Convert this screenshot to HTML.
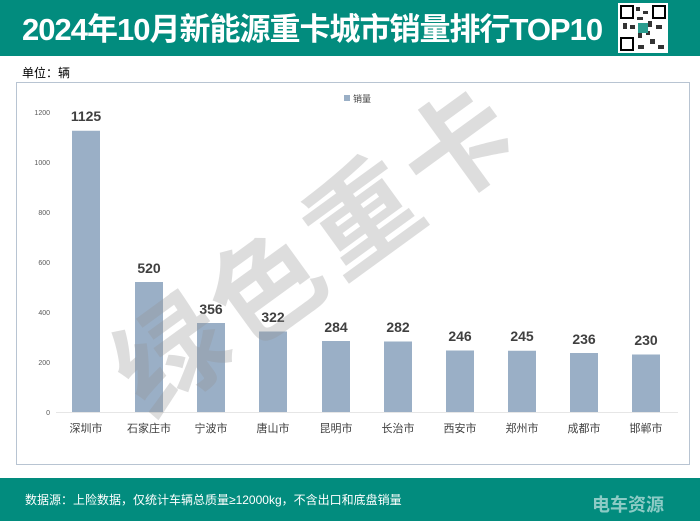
<!DOCTYPE html>
<html><head><meta charset="utf-8"><style>
body{margin:0;width:700px;height:521px;position:relative;background:#fff;overflow:hidden;font-family:"Liberation Sans","Noto Sans CJK SC",sans-serif}
.hdr{position:absolute;left:0;top:0;width:700px;height:56px;background:#028c7e}
.title{position:absolute;left:22px;top:4px;font-size:31px;font-weight:bold;color:#fff;letter-spacing:-1px;white-space:nowrap}
.qr{position:absolute;left:618px;top:3px;width:50px;height:50px;background:#fff}
.ftr{position:absolute;left:0;top:478px;width:700px;height:43px;background:#028c7e}
.box{position:absolute;left:16px;top:82px;width:674px;height:383px;border:1px solid #b8c4d2;box-sizing:border-box}
.t{position:absolute;white-space:nowrap}
</style></head><body>
<div class="hdr"></div>
<div class="title">2024年10月新能源重卡城市销量排行TOP10</div>
<div class="qr"><svg width="50" height="50">
<rect x="3" y="3" width="12" height="12" fill="none" stroke="#000" stroke-width="2"/>
<rect x="35" y="3" width="12" height="12" fill="none" stroke="#000" stroke-width="2"/>
<rect x="3" y="35" width="12" height="12" fill="none" stroke="#000" stroke-width="2"/>
<g fill="#333"><rect x="18" y="4" width="4" height="4"/><rect x="25" y="8" width="5" height="3"/><rect x="19" y="14" width="6" height="3"/><rect x="5" y="20" width="4" height="6"/><rect x="12" y="22" width="5" height="4"/><rect x="30" y="18" width="4" height="6"/><rect x="38" y="22" width="6" height="4"/><rect x="20" y="30" width="4" height="5"/><rect x="32" y="36" width="5" height="5"/><rect x="40" y="42" width="6" height="4"/><rect x="20" y="42" width="6" height="4"/><rect x="28" y="28" width="4" height="4"/></g>
<rect x="20" y="20" width="10" height="10" fill="#2a9d8f"/></svg></div>
<div class="t" style="left:22px;top:64px;font-size:12px;color:#000">单位：辆</div>
<div class="box"></div>
<svg style="position:absolute;left:0;top:0" width="700" height="521">
<line x1="56" y1="412.5" x2="678" y2="412.5" stroke="#e6e6e6"/>
<g font-size="7" fill="#595959" text-anchor="end" font-family="Liberation Sans,sans-serif">
<text x="50" y="115">1200</text><text x="50" y="165">1000</text><text x="50" y="215">800</text><text x="50" y="265">600</text><text x="50" y="315">400</text><text x="50" y="365">200</text><text x="50" y="415">0</text></g>
<rect x="344" y="95" width="6" height="6" fill="#9aafc6"/>
<text x="353" y="102" font-size="9" fill="#404040" font-family="Noto Sans CJK SC,sans-serif">销量</text>
<g fill="#9aafc6">
<rect x="72" y="130.75" width="28" height="281.25"/>
<rect x="135" y="282" width="28" height="130"/>
<rect x="197" y="323" width="28" height="89"/>
<rect x="259" y="331.5" width="28" height="80.5"/>
<rect x="322" y="341" width="28" height="71"/>
<rect x="384" y="341.5" width="28" height="70.5"/>
<rect x="446" y="350.5" width="28" height="61.5"/>
<rect x="508" y="350.75" width="28" height="61.25"/>
<rect x="570" y="353" width="28" height="59"/>
<rect x="632" y="354.5" width="28" height="57.5"/>
</g>
<g font-size="14" font-weight="bold" fill="#404040" text-anchor="middle" font-family="Liberation Sans,sans-serif">
<text x="86" y="121">1125</text><text x="149" y="273">520</text><text x="211" y="314">356</text><text x="273" y="322">322</text><text x="336" y="332">284</text><text x="398" y="332">282</text><text x="460" y="341">246</text><text x="522" y="341">245</text><text x="584" y="344">236</text><text x="646" y="345">230</text></g>
<g font-size="11" fill="#404040" text-anchor="middle" font-family="Noto Sans CJK SC,sans-serif">
<text x="86" y="432">深圳市</text><text x="149" y="432">石家庄市</text><text x="211" y="432">宁波市</text><text x="273" y="432">唐山市</text><text x="336" y="432">昆明市</text><text x="398" y="432">长治市</text><text x="460" y="432">西安市</text><text x="522" y="432">郑州市</text><text x="584" y="432">成都市</text><text x="646" y="432">邯郸市</text></g>
<text x="0" y="0" transform="translate(150,420) rotate(-36)" font-size="110" font-weight="bold" fill="rgba(150,150,150,0.32)" font-family="Noto Sans CJK SC,sans-serif" letter-spacing="8">绿色重卡</text>
</svg>
<div class="ftr"></div>
<div class="t" style="left:25px;top:491px;font-size:12px;color:#fff">数据源：上险数据，仅统计车辆总质量≥12000kg，不含出口和底盘销量</div>
<div class="t" style="left:592px;top:491px;font-size:18px;font-weight:bold;color:rgba(255,255,255,0.55)">电车资源</div>
</body></html>
